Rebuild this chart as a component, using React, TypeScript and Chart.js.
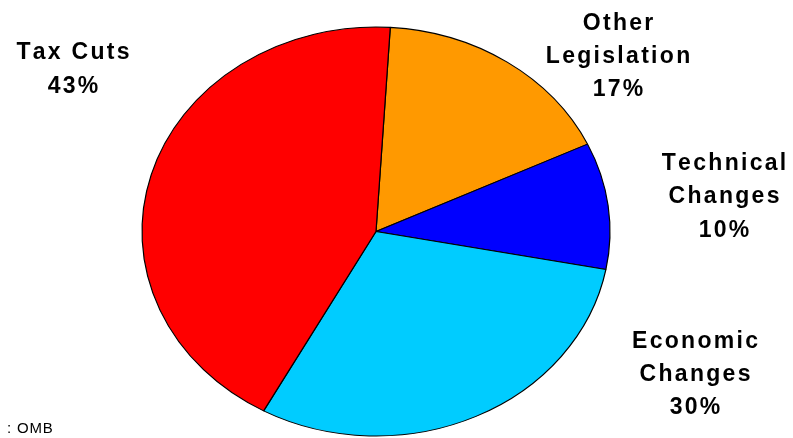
import React, { useEffect, useRef } from "react";
import { Chart, registerables } from "chart.js";

Chart.register(...registerables);

const categories = ["Other Legislation", "Technical Changes", "Economic Changes", "Tax Cuts"];
const shares = [17, 10, 30, 43];
const colors = ["#FF9900", "#0000FF", "#00CCFF", "#FF0000"];
const labelLines = [
  ["Other", "Legislation", "17%"],
  ["Technical", "Changes", "10%"],
  ["Economic", "Changes", "30%"],
  ["Tax Cuts", "43%"],
];
const labelAnchors = [
  { x: 618, y: 29.5 },
  { x: 724, y: 170 },
  { x: 695, y: 347.5 },
  { x: 73, y: 59.3 },
];
const sourceText = ": OMB";

const W = 793;
const H = 438;
const RX = 234;
const RY = 204.5;

function drawSpaced(ctx: CanvasRenderingContext2D, text: string, cx: number, y: number, ls: number) {
  let total = 0;
  const widths: number[] = [];
  for (const ch of text) {
    const w = ctx.measureText(ch).width;
    widths.push(w);
    total += w;
  }
  total += ls * (widths.length - 1);
  let x = cx - total / 2;
  let i = 0;
  for (const ch of text) {
    ctx.fillText(ch, x, y);
    x += widths[i] + ls;
    i++;
  }
}

const ellipsePlugin = {
  id: "ellipse",
  beforeDatasetsDraw(chart: any) {
    const ctx = chart.ctx;
    const meta = chart.getDatasetMeta(0);
    const arc = meta.data[0];
    const cx = arc.x;
    const cy = arc.y;
    ctx.save();
    ctx.translate(cx, cy);
    ctx.scale(1, RY / RX);
    ctx.translate(-cx, -cy);
  },
  afterDatasetsDraw(chart: any) {
    chart.ctx.restore();
  },
};

const labelPlugin = {
  id: "labels",
  afterDraw(chart: any) {
    const ctx = chart.ctx as CanvasRenderingContext2D;
    ctx.save();
    ctx.fillStyle = "#000";
    ctx.textAlign = "left";
    ctx.textBaseline = "alphabetic";
    ctx.font = "bold 23px 'Liberation Sans', Arial, sans-serif";
    labelLines.forEach((lines, i) => {
      const a = labelAnchors[i];
      lines.forEach((line, j) => {
        drawSpaced(ctx, line, a.x, a.y + j * 33.4, 2.3);
      });
    });
    ctx.font = "15px 'Liberation Sans', Arial, sans-serif";
    let x = 7;
    for (const ch of sourceText) {
      ctx.fillText(ch, x, 433);
      x += ctx.measureText(ch).width + 0.8;
    }
    ctx.restore();
  },
};

export default function App() {
  const ref = useRef<HTMLCanvasElement | null>(null);
  useEffect(() => {
    document.body.style.margin = "0";
    const canvas = ref.current!;
    const chart = new Chart(canvas, {
      type: "pie",
      data: {
        labels: categories,
        datasets: [
          {
            data: shares,
            backgroundColor: colors,
            borderColor: "#000000",
            borderWidth: 1.2,
            radius: RX,
          } as any,
        ],
      },
      options: {
        animation: false,
        responsive: false,
        maintainAspectRatio: false,
        rotation: 3.5,
        layout: { padding: { left: 0, right: 41, top: 25, bottom: 0 } },
        plugins: {
          legend: { display: false },
          tooltip: { enabled: false },
        },
      },
      plugins: [ellipsePlugin, labelPlugin],
    });
    return () => chart.destroy();
  }, []);
  return (
    <div style={{ position: "fixed", left: 0, top: 0, width: W, height: H, background: "#fff" }}>
      <canvas ref={ref} width={W} height={H} style={{ width: W, height: H, display: "block" }} />
    </div>
  );
}
